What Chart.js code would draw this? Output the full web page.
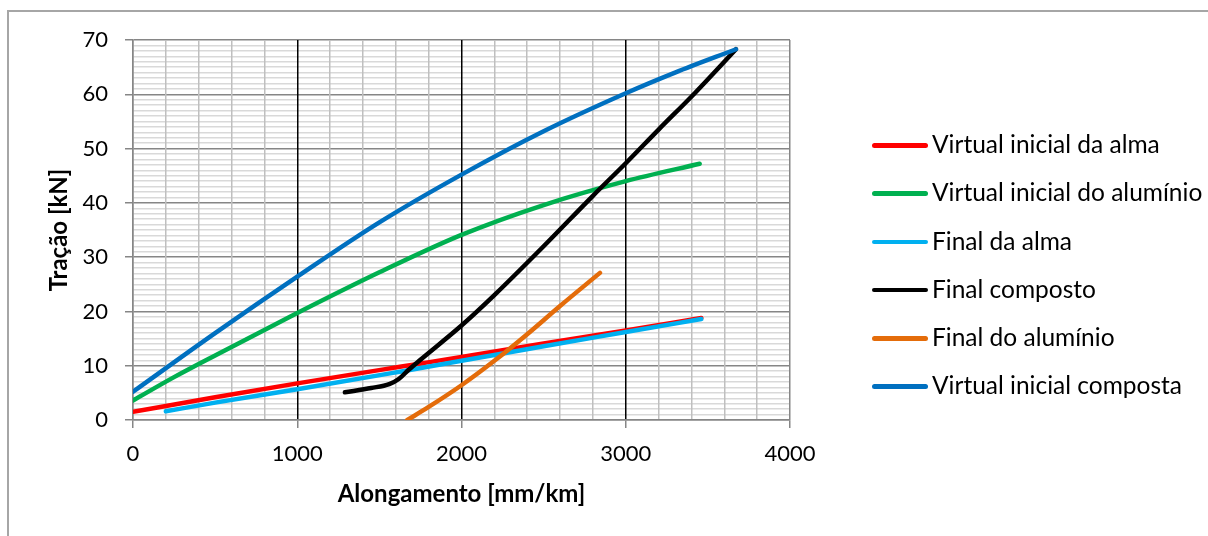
<!DOCTYPE html>
<html>
<head>
<meta charset="utf-8">
<script src="https://cdn.jsdelivr.net/npm/chart.js@4/dist/chart.umd.min.js"></script>
<style>
  html, body { margin: 0; padding: 0; background: #fff; }
  #wrap { position: relative; width: 1208px; height: 536px; overflow: hidden; font-family: Lato, sans-serif; }
  #frame { position: absolute; left: 7px; top: 10px; width: 1300px; height: 600px; border: 2px solid #a6a6a6; box-sizing: border-box; }
  #chart { position: absolute; left: 0; top: 0; }
  #legend { position: absolute; left: 872px; top: 121px; }
  .item { position: relative; height: 48.3px; }
  .swatch { position: absolute; left: 0; top: 22px; width: 56px; height: 4.5px; border-radius: 3px; }
  .label { position: absolute; left: 60px; top: 11px; font-size: 24.5px; line-height: 1; color: #000; white-space: nowrap; }
</style>
</head>
<body>
<div id="wrap">
  <div id="frame"></div>
  <canvas id="chart" width="1208" height="536"></canvas>
  <div id="legend"></div>
</div>
<script>
// Virtual inicial da alma
const almaVirtX = [0, 500, 1000, 1625, 2000, 2500, 3000, 3460];
const almaVirtY = [1.5, 4.2, 6.75, 9.8, 11.6, 14.1, 16.5, 18.8];
// Virtual inicial do aluminio
const aluVirtX = [0, 250, 500, 1000, 1500, 2000, 2500, 3000, 3450];
const aluVirtY = [3.6, 7.9, 11.9, 19.7, 27.2, 34.1, 39.6, 44.0, 47.2];
// Final da alma
const almaFinX = [200, 500, 1000, 1625, 2000, 2500, 3000, 3460];
const almaFinY = [1.6, 3.2, 5.65, 8.9, 10.9, 13.6, 16.2, 18.6];
// Final composto
const compFinX = [1290, 1450, 1560, 1620, 1680, 1750, 2000, 2200, 2500, 2800, 3000, 3200, 3420, 3671];
const compFinY = [5.1, 5.9, 6.6, 7.6, 9.3, 11.1, 17.4, 23.0, 32.0, 41.3, 47.3, 53.5, 60.2, 68.3];
// Final do aluminio
const aluFinX = [1670, 1800, 2000, 2200, 2400, 2600, 2843];
const aluFinY = [0, 2.4, 6.4, 10.9, 15.8, 21.0, 27.1];
// Virtual inicial composta
const compVirtX = [0, 500, 1000, 1500, 2000, 2500, 3000, 3300, 3671];
const compVirtY = [5.2, 16.0, 26.4, 36.4, 45.2, 53.2, 60.2, 64.0, 68.3];

const seriesNames = ['Virtual inicial da alma', 'Virtual inicial do alumínio', 'Final da alma',
  'Final composto', 'Final do alumínio', 'Virtual inicial composta'];
const seriesColors = ['#ff0000', '#00b050', '#00b0f0', '#000000', '#e46c0a', '#0070c0'];
const seriesX = [almaVirtX, aluVirtX, almaFinX, compFinX, aluFinX, compVirtX];
const seriesY = [almaVirtY, aluVirtY, almaFinY, compFinY, aluFinY, compVirtY];

const xTickLabels = [0, 1000, 2000, 3000, 4000];
const yTickLabels = [0, 10, 20, 30, 40, 50, 60, 70];

const toPoints = (xs, ys) => xs.map((x, i) => ({ x: x, y: ys[i] }));

const datasets = seriesNames.map((name, i) => ({
  label: name,
  data: toPoints(seriesX[i], seriesY[i]),
  borderColor: seriesColors[i],
  backgroundColor: seriesColors[i],
  borderWidth: 4.5,
  borderCapStyle: 'round',
  borderJoinStyle: 'round',
  pointRadius: 0,
  cubicInterpolationMode: 'monotone',
  fill: false,
  order: seriesNames.length - i
}));

const tickFont = { family: 'Lato', size: 22 };
const titleFont = { family: 'Lato', size: 24, weight: 'bold' };

new Chart(document.getElementById('chart'), {
  type: 'line',
  data: { datasets: datasets },
  options: {
    responsive: false,
    animation: false,
    layout: { padding: { left: 0, top: 40, right: 418, bottom: 0 } },
    plugins: { legend: { display: false }, tooltip: { enabled: false } },
    scales: {
      x: {
        type: 'linear',
        min: 0,
        max: 4000,
        ticks: {
          stepSize: 200,
          autoSkip: false,
          maxRotation: 0,
          padding: 13,
          color: '#000',
          font: tickFont,
          callback: (v) => xTickLabels.includes(v) ? String(v) : ''
        },
        grid: {
          lineWidth: 1.5,
          tickLength: 8,
          color: (ctx) => {
            const v = ctx.tick ? ctx.tick.value : 0;
            if (v === 0 || v === 4000) return '#868686';
            return v % 1000 === 0 ? '#000000' : '#bfbfbf';
          },
          tickColor: (ctx) => (ctx.tick && ctx.tick.value % 1000 === 0) ? '#868686' : 'rgba(0,0,0,0)'
        },
        border: { color: '#868686', width: 1.5 },
        title: {
          display: true,
          text: 'Alongamento [mm/km]',
          color: '#000',
          font: titleFont,
          padding: { top: 0, bottom: 27 }
        },
        afterFit: (scale) => { scale.height = 116; }
      },
      y: {
        type: 'linear',
        min: 0,
        max: 70,
        ticks: {
          stepSize: 1,
          autoSkip: false,
          padding: 17,
          color: '#000',
          font: tickFont,
          callback: (v) => yTickLabels.includes(v) ? String(v) : ''
        },
        grid: {
          z: -2, // horizontal grid under the vertical one
          lineWidth: 1.5,
          tickLength: 8,
          color: (ctx) => (ctx.tick && ctx.tick.value % 10 === 0) ? '#868686' : '#d9d9d9',
          tickColor: (ctx) => (ctx.tick && ctx.tick.value % 10 === 0) ? '#868686' : 'rgba(0,0,0,0)'
        },
        border: { color: '#868686', width: 1.5 },
        title: {
          display: true,
          text: 'Tração [kN]',
          color: '#000',
          font: titleFont,
          padding: { top: 45, bottom: 0 }
        },
        afterFit: (scale) => { scale.width = 133; }
      }
    }
  }
});

const legend = document.getElementById('legend');
seriesNames.forEach((name, i) => {
  const item = document.createElement('div');
  item.className = 'item';
  item.innerHTML = '<div class="swatch" style="background:' + seriesColors[i] + '"></div>' +
    '<div class="label">' + name + '</div>';
  legend.appendChild(item);
});
</script>
</body>
</html>
